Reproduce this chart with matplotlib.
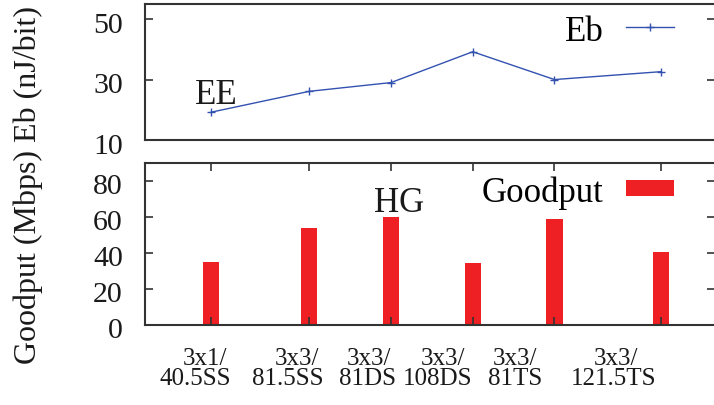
import matplotlib
matplotlib.use("Agg")
import matplotlib.pyplot as plt
from matplotlib.transforms import ScaledTranslation

categories = ["3x1/\n40.5SS", "3x3/\n81.5SS", "3x3/\n81DS", "3x3/\n108DS", "3x3/\n81TS", "3x3/\n121.5TS"]
eb_values = [19.2, 26.1, 29.0, 39.2, 30.0, 32.6]
goodput_values = [35.1, 53.7, 60.0, 34.4, 58.9, 40.3]
eb_ticks = [10, 30, 50]
goodput_ticks = [0, 20, 40, 60, 80]

# layout positions (non-uniform spacing as in the reference)
x_pos = [1.0, 2.2, 3.2, 4.2, 5.2, 6.5]
# tick-label line centres are shifted left of the ticks in the reference
label_pos_line1 = [0.926, 2.055, 2.926, 3.834, 4.718, 5.957]
label_pos_line2 = [0.804, 1.933, 2.914, 3.773, 4.718, 5.920]

plt.rcParams['font.family'] = ['Liberation Serif', 'DejaVu Serif']

fig = plt.figure(figsize=(7.14, 4.06), dpi=100)
W, H = 714, 406
left = 145 / W
right = 1.002
ax1 = fig.add_axes([left, 1 - 141 / H, right - left, (141 - 5) / H])
ax2 = fig.add_axes([left, 1 - 326 / H, right - left, (326 - 164) / H])

line_col = '#3352b0'
bar_col = '#ee2024'
spine_col = '#333333'
text_col = '#1a1a1a'

xmin, xmax = 0.19, 7.17

# top: Eb line
ax1.plot(x_pos, eb_values, color=line_col, lw=1.0, marker='+', ms=6, mew=1.0, label='Eb')
ax1.set_xlim(xmin, xmax)
ax1.set_ylim(10, 55)
ax1.set_yticks(eb_ticks)
ax1.set_xticks([])
ax1.tick_params(axis='y', direction='in', left=True, right=True, length=6, width=1.2,
                labelsize=21.5, colors=spine_col, labelcolor=text_col, pad=16)
ax1.text(1.06, 25.0, 'EE', fontsize=25, ha='center', va='center', color=text_col)
ax1.legend(loc='upper right', bbox_to_anchor=(0.927, 0.922), frameon=False, markerfirst=False,
           fontsize=25, handlelength=1.38, handletextpad=0.63, borderaxespad=0, borderpad=0)

# bottom: Goodput bars
ax2.bar(x_pos, goodput_values, width=0.2, color=bar_col, label='Goodput')
ax2.set_xlim(xmin, xmax)
ax2.set_ylim(0, 90)
ax2.set_yticks(goodput_ticks)
ax2.set_xticks(x_pos)
ax2.set_xticklabels([])
ax2.tick_params(axis='y', direction='in', left=True, right=True, length=6, width=1.2,
                labelsize=21.5, colors=spine_col, labelcolor=text_col, pad=16)
ax2.tick_params(axis='x', direction='in', top=True, bottom=True, length=6, width=1.2,
                colors=spine_col)
xt = ax2.get_xaxis_transform()
for p1, p2, lab in zip(label_pos_line1, label_pos_line2, categories):
    l1, l2 = lab.split("\n")
    ax2.text(p1, -0.2407, l1, transform=xt, fontsize=18, ha='center', va='baseline', color=text_col)
    ax2.text(p2, -0.3642, l2, transform=xt, fontsize=18, ha='center', va='baseline', color=text_col)
ax2.text(3.3, 68, 'HG', fontsize=25, ha='center', va='center', color=text_col)
ax2.legend(loc='upper right', bbox_to_anchor=(0.927, 0.925), frameon=False, markerfirst=False,
           fontsize=25, handlelength=1.38, handleheight=0.352, handletextpad=0.63,
           borderaxespad=0, borderpad=0)

for ax in (ax1, ax2):
    for s in ax.spines.values():
        s.set_color(spine_col)
        s.set_linewidth(1.5)
    off = ScaledTranslation(0, -2.5 / 100, fig.dpi_scale_trans)
    for lab in ax.get_yticklabels():
        lab.set_transform(lab.get_transform() + off)

fig.text(0.04, 0.544, 'Goodput (Mbps) Eb (nJ/bit)', rotation=90, fontsize=23,
         ha='center', va='center', color=text_col)

fig.savefig('out.png', dpi=100)
